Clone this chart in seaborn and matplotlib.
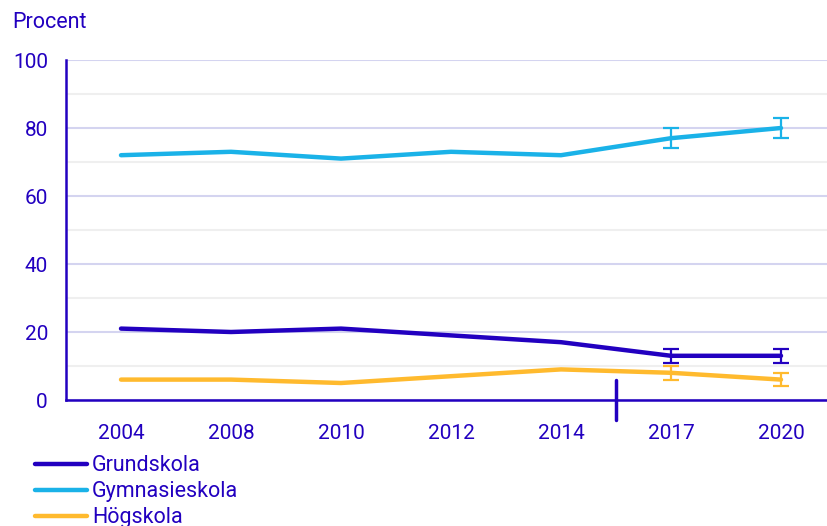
import matplotlib
matplotlib.use("Agg")
import matplotlib.pyplot as plt
import numpy as np
import pandas as pd
import seaborn as sns

# data
years = ["2004", "2008", "2010", "2012", "2014", "2017", "2020"]
grundskola = [21, 20, 21, 19, 17, 13, 13]
gymnasieskola = [72, 73, 71, 73, 72, 77, 80]
hogskola = [6, 6, 5, 7, 9, 8, 6]
series_names = ["Grundskola", "Gymnasieskola", "Högskola"]
# error bars only for the last two years
err_years = ["2017", "2020"]
grund_err = [2, 2]
gymn_err = [3, 3]
hog_err = [2, 2]

text_col = "#2200c0"
colors = {"Grundskola": "#2200c0", "Gymnasieskola": "#1ab2e8", "Högskola": "#ffba2e"}

sns.set_style("white")
plt.rcParams["font.family"] = ["Roboto", "DejaVu Sans"]

df = pd.DataFrame({
    "year": years * 3,
    "pos": list(range(len(years))) * 3,
    "value": grundskola + gymnasieskola + hogskola,
    "serie": np.repeat(series_names, len(years)),
})

fig = plt.figure(figsize=(8.28, 5.26), dpi=100)
W, H = 828, 526
ax = fig.add_axes([66 / W, 1 - 400 / H, (W - 66) / W, 340 / H])

sns.lineplot(data=df, x="pos", y="value", hue="serie", palette=colors,
             linewidth=3.2, ax=ax, legend=True)

err_pos = [years.index(y) for y in err_years]
for name, vals, err in [("Grundskola", grundskola, grund_err),
                        ("Gymnasieskola", gymnasieskola, gymn_err),
                        ("Högskola", hogskola, hog_err)]:
    ax.errorbar(err_pos, [vals[i] for i in err_pos], yerr=err, fmt="none",
                ecolor=colors[name], elinewidth=1.6, capsize=6, capthick=1.6)

ax.set_xlim(-0.5, -0.5 + (W - 66) / 110)
ax.set_ylim(0, 100)

# gridlines
ax.set_yticks([0, 20, 40, 60, 80, 100])
ax.set_yticks([10, 30, 50, 70, 90], minor=True)
ax.grid(axis="y", which="major", color="#d4d4f0", linewidth=1.5)
ax.grid(axis="y", which="minor", color="#efefef", linewidth=1.5)
ax.set_axisbelow(True)

# x ticks at category boundaries, labels at centres
ax.set_xticks(np.arange(len(years)) - 0.5)
ax.set_xticklabels([])
ax.set_xticks(np.arange(len(years)), minor=True)
ax.set_xticklabels(years, minor=True)
ax.tick_params(axis="x", which="minor", length=0, pad=17, labelsize=15, labelcolor=text_col)
ax.tick_params(axis="x", which="major", length=7, width=1.5, color=text_col, direction="out")
ax.tick_params(axis="y", which="major", length=7, width=1.5, color=text_col, labelsize=15,
               labelcolor=text_col, pad=6)
ax.tick_params(axis="y", which="minor", length=0)

# break marker between 2014 and 2017
ax.plot([4.5, 4.5], [-6, 6], color=text_col, linewidth=2.5, clip_on=False)

for s in ["top", "right"]:
    ax.spines[s].set_visible(False)
for s in ["left", "bottom"]:
    ax.spines[s].set_color(text_col)
    ax.spines[s].set_linewidth(1.8)

ax.set_xlabel("")
ax.set_ylabel("")
fig.text(12 / W, 1 - 22 / H, "Procent", fontsize=15.5, color=text_col, va="center", ha="left")

ax.legend(loc="upper left", bbox_to_anchor=((26 - 66) / (W - 66), -0.137), frameon=False,
          fontsize=15.5, labelcolor=text_col, handlelength=2.45, handletextpad=0.22,
          labelspacing=0.23, borderaxespad=0)

fig.savefig("out.png", dpi=100)
